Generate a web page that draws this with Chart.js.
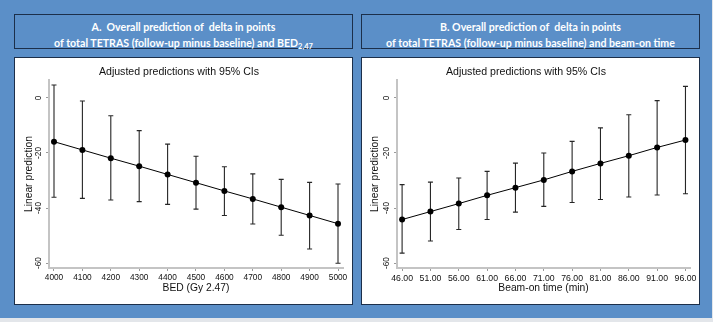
<!DOCTYPE html>
<html>
<head>
<meta charset="utf-8">
<script src="https://cdn.jsdelivr.net/npm/chart.js@4.4.1/dist/chart.umd.min.js"></script>
<style>
  body { margin: 0; width: 713px; height: 322px; background: #e3e6ea; position: relative; overflow: hidden; }
  #bg { position: absolute; left: 0; top: 0; width: 712px; height: 318px; background: #5b8fc8; }
  .hdr { position: absolute; top: 14px; width: 339px; height: 35px; box-sizing: border-box;
         border: 1.5px solid #1c2f4a; background: #5b8fc8; color: #fff;
         font-family: Lato, "Open Sans", sans-serif; font-weight: bold; font-size: 10.6px; text-align: center; }
  .hdr div { position: absolute; left: 0; width: 100%; line-height: 14px; }
  .hdr sub { font-size: 7.5px; vertical-align: -2px; }
  .box { position: absolute; top: 57px; width: 339px; height: 248px; box-sizing: border-box;
         border: 1px solid #1c2f4a; background: #fff; }
  .box .wrap { position: absolute; left: 0; top: 0; width: 337px; height: 246px; }
</style>
</head>
<body>
<div id="bg"></div>

<div class="hdr" style="left:14px">
  <div style="top:4.5px">A.&nbsp; Overall prediction of&nbsp; delta in points</div>
  <div style="top:20.5px">of total TETRAS (follow-up minus baseline) and BED<sub>2,47</sub></div>
</div>
<div class="hdr" style="left:361px">
  <div style="top:4.5px">B. Overall prediction of&nbsp; delta in points</div>
  <div style="top:20.5px">of total TETRAS (follow-up minus baseline) and beam-on time</div>
</div>

<div class="box" style="left:14px"><div class="wrap"><canvas id="chartA"></canvas></div></div>
<div class="box" style="left:361px"><div class="wrap"><canvas id="chartB"></canvas></div></div>

<script>
// panel A: BED
var bedValues = [4000, 4100, 4200, 4300, 4400, 4500, 4600, 4700, 4800, 4900, 5000];
var bedPred   = [-15.9, -18.9, -21.9, -24.8, -27.8, -30.8, -33.8, -36.7, -39.7, -42.7, -45.7];
var bedUpper  = [4.7, -1.1, -6.5, -11.9, -16.8, -21.2, -25.0, -27.6, -29.6, -30.7, -31.3];
var bedLower  = [-36.1, -36.5, -37.1, -37.7, -38.7, -40.4, -42.7, -45.8, -49.9, -54.9, -60.1];

// panel B: beam-on time
var beamValues = [46, 51, 56, 61, 66, 71, 76, 81, 86, 91, 96];
var beamPred   = [-44.2, -41.3, -38.4, -35.4, -32.6, -29.8, -26.7, -23.8, -21.0, -18.0, -15.3];
var beamUpper  = [-31.5, -30.6, -29.1, -26.7, -23.7, -20.0, -15.8, -10.9, -6.1, -1.0, 4.2];
var beamLower  = [-56.4, -52.0, -47.8, -44.2, -41.5, -39.4, -38.0, -36.9, -36.0, -35.3, -34.8];

var yTicks = [-60, -40, -20, 0];
var plotTitle = 'Adjusted predictions with 95% CIs';
var yTitle = 'Linear prediction';

var FONT = '"Liberation Sans", Arial, sans-serif';

/* error bars, drawn under the line */
var errorBars = {
  id: 'errorBars',
  beforeDatasetsDraw: function (chart) {
    var o = chart.options.plugins.errorBars;
    var ctx = chart.ctx;
    var xs = chart.scales.x, ys = chart.scales.y;
    ctx.save();
    ctx.strokeStyle = '#262626';
    ctx.lineWidth = 1.1;
    for (var i = 0; i < o.xs.length; i++) {
      var px = xs.getPixelForValue(o.xs[i]);
      var top = ys.getPixelForValue(o.hi[i]);
      var bot = ys.getPixelForValue(o.lo[i]);
      ctx.beginPath();
      ctx.moveTo(px, top); ctx.lineTo(px, bot);
      ctx.moveTo(px - 2.5, top); ctx.lineTo(px + 2.5, top);
      ctx.moveTo(px - 2.5, bot); ctx.lineTo(px + 2.5, bot);
      ctx.stroke();
    }
    ctx.restore();
  }
};

/* stata style vertical y tick labels */
var yLabels = {
  id: 'yLabels',
  afterDraw: function (chart) {
    var o = chart.options.plugins.yLabels;
    var ys = chart.scales.y;
    var ctx = chart.ctx;
    ctx.save();
    ctx.fillStyle = '#111';
    ctx.font = '8.3px ' + FONT;
    ctx.textAlign = 'center';
    ctx.textBaseline = 'middle';
    ys.ticks.forEach(function (t) {
      var py = ys.getPixelForValue(t.value);
      ctx.save();
      ctx.translate(o.x, py);
      ctx.rotate(-Math.PI / 2);
      ctx.fillText(String(t.value), 0, 0);
      ctx.restore();
    });
    ctx.restore();
  }
};

function makeChart(id, xVals, pred, lo, hi, xMin, xMax, xTitle, fmt, tickSize, yAxisW, yTitlePad, yLabelX) {
  var ctx = document.getElementById(id);
  return new Chart(ctx, {
    type: 'line',
    data: {
      datasets: [{
        data: xVals.map(function (v, i) { return { x: v, y: pred[i] }; }),
        borderColor: '#000',
        borderWidth: 1,
        backgroundColor: '#000',
        pointRadius: 3,
        pointBorderWidth: 0,
        pointBackgroundColor: '#000',
        tension: 0
      }]
    },
    options: {
      responsive: true,
      maintainAspectRatio: false,
      animation: false,
      layout: { padding: { left: 0, right: 9, top: 0, bottom: 0 } },
      plugins: {
        legend: { display: false },
        tooltip: { enabled: false },
        title: {
          display: true,
          text: plotTitle,
          color: '#111',
          font: { family: FONT, size: 10.6, weight: 'normal' },
          padding: { top: 7.6, bottom: 1.7 }
        },
        errorBars: { xs: xVals, lo: lo, hi: hi },
        yLabels: { x: yLabelX }
      },
      scales: {
        x: {
          type: 'linear',
          min: xMin,
          max: xMax,
          afterBuildTicks: function (s) { s.ticks = xVals.map(function (v) { return { value: v }; }); },
          afterFit: function (s) { s.height = 36; },
          grid: { display: true, drawOnChartArea: false, drawTicks: true, tickLength: 3, color: '#9a9a9a', lineWidth: 1 },
          border: { display: true, color: '#c4c4c4', width: 2 },
          ticks: {
            autoSkip: false, maxRotation: 0, minRotation: 0, padding: 2, color: '#111',
            font: { family: FONT, size: tickSize },
            callback: function (v) { return fmt(v); }
          },
          title: {
            display: true, text: xTitle, color: '#111',
            font: { family: FONT, size: 10.3 },
            padding: { top: 0, bottom: 9.8 }
          }
        },
        y: {
          type: 'linear',
          min: -61.8,
          max: 6.5,
          afterBuildTicks: function (s) { s.ticks = yTicks.map(function (v) { return { value: v }; }); },
          afterFit: function (s) { s.width = yAxisW; },
          grid: { display: true, drawOnChartArea: false, drawTicks: true, tickLength: 3, color: '#9a9a9a', lineWidth: 1 },
          border: { display: true, color: '#c4c4c4', width: 2 },
          ticks: { color: 'rgba(0,0,0,0)', font: { family: FONT, size: 8 } },
          title: {
            display: true, text: yTitle, color: '#111',
            font: { family: FONT, size: 10.3 },
            padding: { top: yTitlePad, bottom: 0 }
          }
        }
      }
    },
    plugins: [errorBars, yLabels]
  });
}

makeChart('chartA', bedValues, bedPred, bedLower, bedUpper, 3982.4, 5017.6, 'BED (Gy 2.47)',
  function (v) { return String(v); }, 8.3, 34, 8.3, 24);
makeChart('chartB', beamValues, beamPred, beamLower, beamUpper, 45.1, 96.8, 'Beam-on time (min)',
  function (v) { return v.toFixed(2); }, 8.7, 35, 6.8, 24.7);
</script>
</body>
</html>
